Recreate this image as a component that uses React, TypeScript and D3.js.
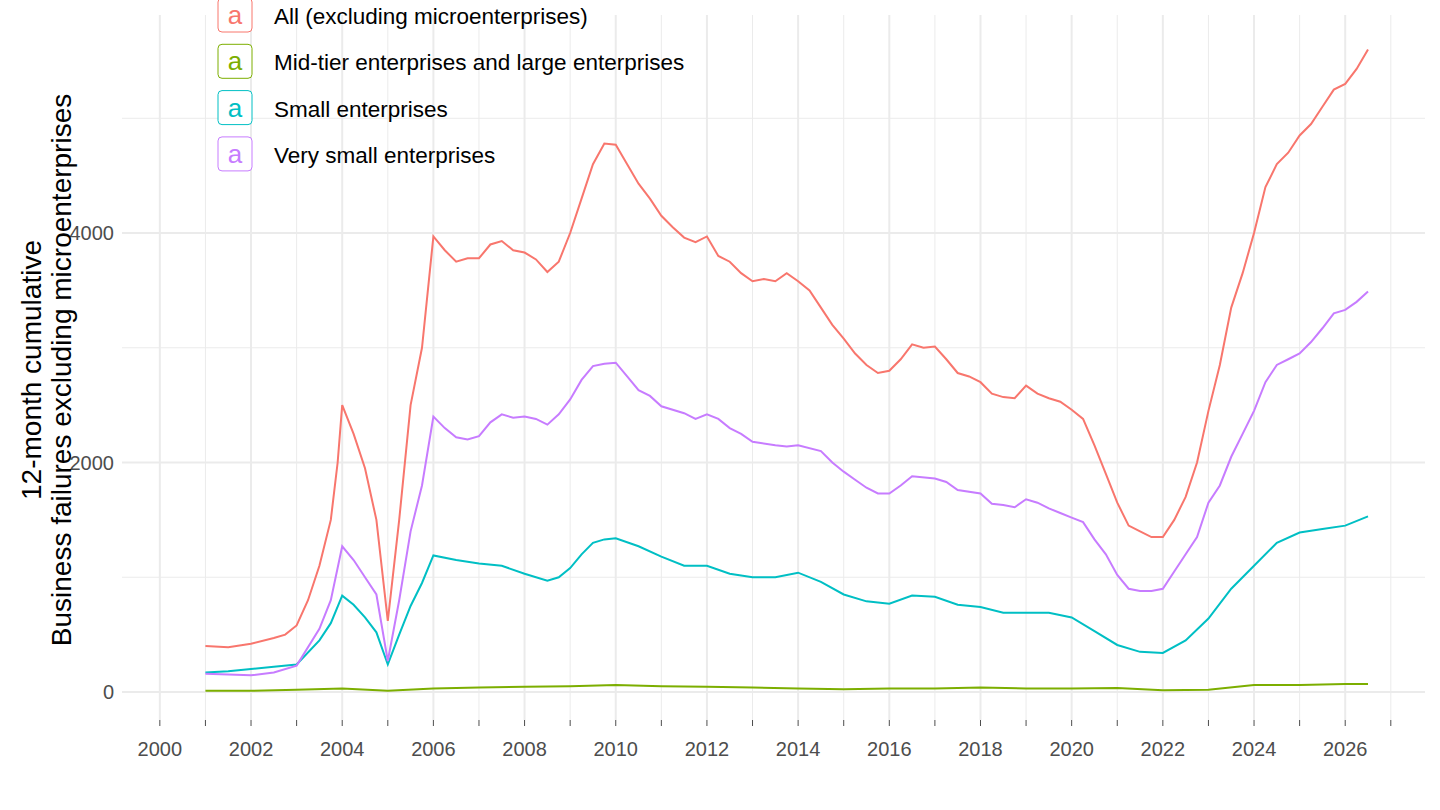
import React from "react";
import * as d3 from "d3";

const allDates = [2001, 2001.5, 2002, 2002.5, 2002.75, 2003, 2003.25, 2003.5, 2003.75, 2003.9, 2004, 2004.25, 2004.5, 2004.75, 2005, 2005.25, 2005.5, 2005.75, 2006, 2006.25, 2006.5, 2006.75, 2007, 2007.25, 2007.5, 2007.75, 2008, 2008.25, 2008.5, 2008.75, 2009, 2009.25, 2009.5, 2009.75, 2010, 2010.25, 2010.5, 2010.75, 2011, 2011.25, 2011.5, 2011.75, 2012, 2012.25, 2012.5, 2012.75, 2013, 2013.25, 2013.5, 2013.75, 2014, 2014.25, 2014.5, 2014.75, 2015, 2015.25, 2015.5, 2015.75, 2016, 2016.25, 2016.5, 2016.75, 2017, 2017.25, 2017.5, 2017.75, 2018, 2018.25, 2018.5, 2018.75, 2019, 2019.25, 2019.5, 2019.75, 2020, 2020.25, 2020.5, 2020.75, 2021, 2021.25, 2021.5, 2021.75, 2022, 2022.25, 2022.5, 2022.75, 2023, 2023.25, 2023.5, 2023.75, 2024, 2024.25, 2024.5, 2024.75, 2025, 2025.25, 2025.5, 2025.75, 2026, 2026.25, 2026.5];
const allValues = [400, 390, 420, 470, 500, 580, 800, 1100, 1500, 2000, 2500, 2250, 1950, 1500, 620, 1500, 2500, 3000, 3970, 3850, 3750, 3780, 3780, 3900, 3930, 3850, 3830, 3770, 3660, 3750, 4000, 4300, 4600, 4780, 4770, 4600, 4430, 4300, 4150, 4050, 3960, 3920, 3970, 3800, 3750, 3650, 3580, 3600, 3580, 3650, 3580, 3500, 3350, 3200, 3080, 2950, 2850, 2780, 2800, 2900, 3030, 3000, 3010, 2900, 2780, 2750, 2700, 2600, 2570, 2560, 2670, 2600, 2560, 2530, 2460, 2380, 2150, 1900, 1650, 1450, 1400, 1350, 1350, 1500, 1700, 2000, 2450, 2850, 3350, 3650, 4000, 4400, 4600, 4700, 4850, 4950, 5100, 5250, 5300, 5430, 5600];

const midDates = [2001, 2002, 2003, 2004, 2005, 2006, 2007, 2008, 2009, 2010, 2011, 2012, 2013, 2014, 2015, 2016, 2017, 2018, 2019, 2020, 2021, 2022, 2023, 2024, 2025, 2026, 2026.5];
const midValues = [10, 10, 20, 30, 10, 30, 40, 45, 50, 60, 50, 45, 40, 30, 25, 30, 30, 40, 30, 30, 35, 15, 20, 60, 60, 70, 70];

const smallDates = [2001, 2001.5, 2002, 2002.5, 2003, 2003.5, 2003.75, 2004, 2004.25, 2004.5, 2004.75, 2005, 2005.25, 2005.5, 2005.75, 2006, 2006.5, 2007, 2007.5, 2008, 2008.5, 2008.75, 2009, 2009.25, 2009.5, 2009.75, 2010, 2010.5, 2011, 2011.5, 2012, 2012.5, 2013, 2013.5, 2014, 2014.5, 2015, 2015.5, 2016, 2016.5, 2017, 2017.5, 2018, 2018.5, 2019, 2019.5, 2020, 2020.5, 2021, 2021.5, 2022, 2022.5, 2023, 2023.5, 2024, 2024.5, 2025, 2025.5, 2026, 2026.5];
const smallValues = [170, 180, 200, 220, 240, 450, 600, 840, 760, 650, 520, 240, 500, 750, 950, 1190, 1150, 1120, 1100, 1030, 970, 1000, 1080, 1200, 1300, 1330, 1340, 1270, 1180, 1100, 1100, 1030, 1000, 1000, 1040, 960, 850, 790, 770, 840, 830, 760, 740, 690, 690, 690, 650, 530, 410, 350, 340, 450, 640, 900, 1100, 1300, 1390, 1420, 1450, 1530];

const verySmallDates = [2001, 2002, 2002.5, 2003, 2003.5, 2003.75, 2004, 2004.25, 2004.5, 2004.75, 2005, 2005.25, 2005.5, 2005.75, 2006, 2006.25, 2006.5, 2006.75, 2007, 2007.25, 2007.5, 2007.75, 2008, 2008.25, 2008.5, 2008.75, 2009, 2009.25, 2009.5, 2009.75, 2010, 2010.25, 2010.5, 2010.75, 2011, 2011.5, 2011.75, 2012, 2012.25, 2012.5, 2012.75, 2013, 2013.5, 2013.75, 2014, 2014.5, 2014.75, 2015, 2015.25, 2015.5, 2015.75, 2016, 2016.25, 2016.5, 2017, 2017.25, 2017.5, 2018, 2018.25, 2018.5, 2018.75, 2019, 2019.25, 2019.5, 2019.75, 2020, 2020.25, 2020.5, 2020.75, 2021, 2021.25, 2021.5, 2021.75, 2022, 2022.25, 2022.5, 2022.75, 2023, 2023.25, 2023.5, 2023.75, 2024, 2024.25, 2024.5, 2024.75, 2025, 2025.25, 2025.5, 2025.75, 2026, 2026.25, 2026.5];
const verySmallValues = [160, 145, 170, 230, 550, 800, 1270, 1150, 1000, 850, 270, 800, 1400, 1800, 2400, 2300, 2220, 2200, 2230, 2350, 2420, 2390, 2400, 2380, 2330, 2420, 2550, 2720, 2840, 2860, 2870, 2750, 2630, 2580, 2490, 2430, 2380, 2420, 2380, 2300, 2250, 2180, 2150, 2140, 2150, 2100, 2000, 1920, 1850, 1780, 1730, 1730, 1800, 1880, 1860, 1830, 1760, 1730, 1640, 1630, 1610, 1680, 1650, 1600, 1560, 1520, 1480, 1330, 1200, 1020, 900, 880, 880, 900, 1050, 1200, 1350, 1650, 1800, 2050, 2250, 2450, 2700, 2850, 2900, 2950, 3050, 3170, 3300, 3330, 3400, 3490];

const seriesNames = ["All (excluding microenterprises)", "Mid-tier enterprises and large enterprises", "Small enterprises", "Very small enterprises"];
const seriesColors = ["#F8766D", "#7CAE00", "#00BFC4", "#C77CFF"];
const xTicks = [2000, 2002, 2004, 2006, 2008, 2010, 2012, 2014, 2016, 2018, 2020, 2022, 2024, 2026];
const yTicks = [0, 2000, 4000];

export default function App() {
  const W = 1440, H = 810;
  const left = 122, right = 1425, top = 15, bottom = 720;
  const x = d3.scaleLinear().domain([1999.17, 2027.75]).range([left, right]);
  const y = d3.scaleLinear().domain([-244, 5900]).range([bottom, top]);
  const series = [
    { dates: allDates, values: allValues },
    { dates: midDates, values: midValues },
    { dates: smallDates, values: smallValues },
    { dates: verySmallDates, values: verySmallValues },
  ];
  const line = d3.line<[number, number]>().x(d => x(d[0])).y(d => y(d[1]));
  const minorX = d3.range(2000, 2028, 1);
  const minorY = [1000, 3000, 5000];
  const font = "Liberation Sans, Arial, sans-serif";

  return (
    <svg width={W} height={H} style={{ position: "absolute", left: 0, top: 0, background: "#fff" }} fontFamily={font}>
      {minorX.filter(v => v % 2 === 1).map(v => (
        <line key={"mx" + v} x1={x(v)} x2={x(v)} y1={top} y2={bottom} stroke="#EBEBEB" strokeWidth={1} />
      ))}
      {minorY.map(v => (
        <line key={"my" + v} x1={left} x2={right} y1={y(v)} y2={y(v)} stroke="#EBEBEB" strokeWidth={1} />
      ))}
      {xTicks.map(v => (
        <line key={"gx" + v} x1={x(v)} x2={x(v)} y1={top} y2={bottom} stroke="#EBEBEB" strokeWidth={2} />
      ))}
      {yTicks.map(v => (
        <line key={"gy" + v} x1={left} x2={right} y1={y(v)} y2={y(v)} stroke="#EBEBEB" strokeWidth={2} />
      ))}
      {series.map((s, i) => (
        <path key={i} d={line(s.dates.map((d, j) => [d, s.values[j]] as [number, number])) || ""} fill="none" stroke={seriesColors[i]} strokeWidth={2} />
      ))}
      {minorX.map(v => (
        <line key={"tk" + v} x1={x(v)} x2={x(v)} y1={bottom} y2={bottom + 6} stroke="#4D4D4D" strokeWidth={1} />
      ))}
      {xTicks.map(v => (
        <text key={"xl" + v} x={x(v)} y={756} textAnchor="middle" fontSize={20} fill="#4D4D4D">{v}</text>
      ))}
      {yTicks.map(v => (
        <text key={"yl" + v} x={left - 8} y={y(v) + 7} textAnchor="end" fontSize={20} fill="#4D4D4D">{v}</text>
      ))}
      <g transform="translate(0,370) rotate(-90)" fontSize={28} fill="#000">
        <text x={0} y={41} textAnchor="middle">12-month cumulative</text>
        <text x={0} y={71} textAnchor="middle">Business failures excluding microenterprises</text>
      </g>
      {seriesNames.map((n, i) => (
        <g key={n} transform={`translate(218,${-2 + i * 46.3})`}>
          <rect x={0} y={0} width={34} height={34} rx={4} fill="#fff" stroke={seriesColors[i]} strokeWidth={1} />
          <text x={17} y={26} textAnchor="middle" fontSize={26} fill={seriesColors[i]}>a</text>
          <text x={56} y={26} fontSize={22.5} fill="#000">{n}</text>
        </g>
      ))}
    </svg>
  );
}
